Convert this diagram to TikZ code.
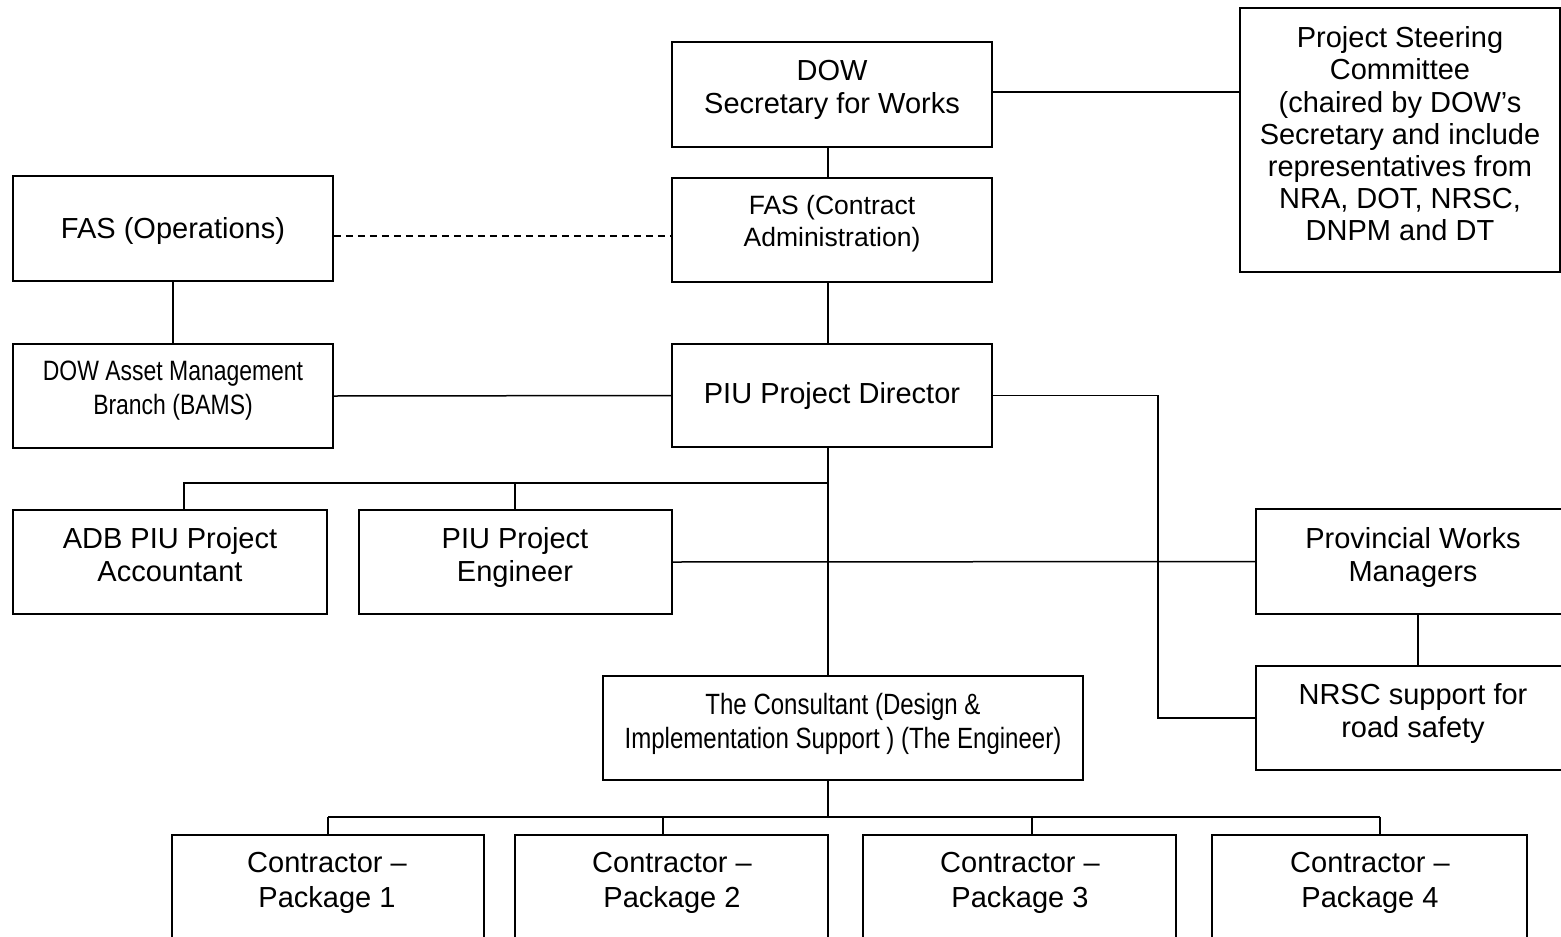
\documentclass[tikz,border=0pt]{standalone}
\usepackage{fontspec}
\setmainfont{Liberation Sans}
\newfontfamily\narrowfont[FakeStretch=0.82]{Liberation Sans}
\begin{document}
\begin{tikzpicture}[x=1pt,y=-1pt,
  box/.style={draw, line width=1.5pt, rectangle, inner sep=0pt},
  txt/.style={align=center, inner sep=0pt, font=\fontsize{29}{33}\selectfont},
  ntxt/.style={align=center, inner sep=0pt, font=\narrowfont\fontsize{28}{34}\selectfont},
  conn/.style={line width=1.5pt},
  dconn/.style={line width=1.5pt, dash pattern=on 7pt off 5pt}]
\clip (0,0) rectangle (1561,937);
% boxes
\node[box, minimum width=320pt, minimum height=105pt] (dow) at (832,94.5) {};
\node[box, minimum width=320pt, minimum height=264pt] (psc) at (1400,140) {};
\node[box, minimum width=320pt, minimum height=104pt] (fasc) at (832,230) {};
\node[box, minimum width=320pt, minimum height=105pt] (faso) at (173,228.5) {};
\node[box, minimum width=320pt, minimum height=104pt] (dam) at (173,396) {};
\node[box, minimum width=320pt, minimum height=103pt] (pd) at (832,395.5) {};
\node[box, minimum width=314pt, minimum height=104pt] (adb) at (170,562) {};
\node[box, minimum width=313pt, minimum height=104pt] (pe) at (515.5,562) {};
\node[box, minimum width=319pt, minimum height=105pt] (pwm) at (1415.5,561.5) {};
\node[box, minimum width=319pt, minimum height=104pt] (nrsc) at (1415.5,718) {};
\node[box, minimum width=480pt, minimum height=104pt] (cons) at (843,728) {};
\node[box, minimum width=312pt, minimum height=125pt] (c1) at (328,897.5) {};
\node[box, minimum width=313pt, minimum height=125pt] (c2) at (671.5,897.5) {};
\node[box, minimum width=313pt, minimum height=125pt] (c3) at (1019.5,897.5) {};
\node[box, minimum width=315pt, minimum height=125pt] (c4) at (1369.5,897.5) {};
% texts
\node[txt] (tdow) at (832,90) {DOW\\Secretary for Works};
\node[txt, font=\fontsize{29}{32.2}\selectfont] (tpsc) at (1400,134) {Project Steering\\Committee\\(chaired by DOW’s\\Secretary and include\\representatives from\\NRA, DOT, NRSC,\\DNPM and DT};
\node[txt, font=\fontsize{26.5}{32}\selectfont] (tfasc) at (832,224) {FAS (Contract\\Administration)};
\node[txt] (tfaso) at (173,231) {FAS (Operations)};
\node[ntxt] (tdam) at (173,391) {DOW Asset Management\\Branch (BAMS)};
\node[txt] (tpd) at (832,396) {PIU Project Director};
\node[txt] (tadb) at (170,555) {ADB PIU Project\\Accountant};
\node[txt] (tpe) at (515,557) {PIU Project\\Engineer};
\node[txt] (tpwm) at (1413,557) {Provincial Works\\Managers};
\node[txt] (tnrsc) at (1413,714) {NRSC support for\\road safety};
\node[ntxt, font=\narrowfont\fontsize{29.3}{34}\selectfont] (tcons) at (843,724) {The Consultant (Design \&\\Implementation Support ) (The Engineer)};
\node[txt, font=\fontsize{29}{34.5}\selectfont] (tc1) at (327,883) {Contractor –\\Package 1};
\node[txt, font=\fontsize{29}{34.5}\selectfont] (tc2) at (672,883) {Contractor –\\Package 2};
\node[txt, font=\fontsize{29}{34.5}\selectfont] (tc3) at (1020,883) {Contractor –\\Package 3};
\node[txt, font=\fontsize{29}{34.5}\selectfont] (tc4) at (1370,883) {Contractor –\\Package 4};
% helper coordinates
\coordinate (spine) at (828,0);
\coordinate (jA) at (184,483);
\coordinate (jB) at (515,483);
\coordinate (jS) at (828,483);
\coordinate (turn) at (1158,500);
\coordinate (pn) at (1418,0);
\coordinate (cb) at (828,817);
\coordinate (k1) at (328,817);
\coordinate (k2) at (663,817);
\coordinate (k3) at (1032,817);
\coordinate (k4) at (1380,817);
% connectors
\draw[conn] (spine |- dow.south) -- (spine |- fasc.north);
\draw[conn] (dow.east |- 0,92) -- (psc.west |- 0,92);
\draw[dconn] (faso.east |- 0,236) -- (fasc.west |- 0,236);
\draw[conn] (spine |- fasc.south) -- (spine |- pd.north);
\draw[conn] (faso.south) -- (dam.north);
\draw[conn] (dam.east) -- (pd.west);
\draw[conn] (pd.east) -| (turn) |- (nrsc.west);
\draw[conn] (spine |- pd.south) -- (spine |- cons.north);
\draw[conn] (adb.north -| jA) -- (jA) -- (jS);
\draw[conn] (jB) -- (pe.north -| jB);
\draw[conn] (pe.east) -- (pwm.west);
\draw[conn] (pn |- pwm.south) -- (pn |- nrsc.north);
\draw[conn] (spine |- cons.south) -- (cb);
\draw[conn] (k1) -- (k4);
\draw[conn] (k1) -- (c1.north -| k1);
\draw[conn] (k2) -- (c2.north -| k2);
\draw[conn] (k3) -- (c3.north -| k3);
\draw[conn] (k4) -- (c4.north -| k4);
\end{tikzpicture}
\end{document}
